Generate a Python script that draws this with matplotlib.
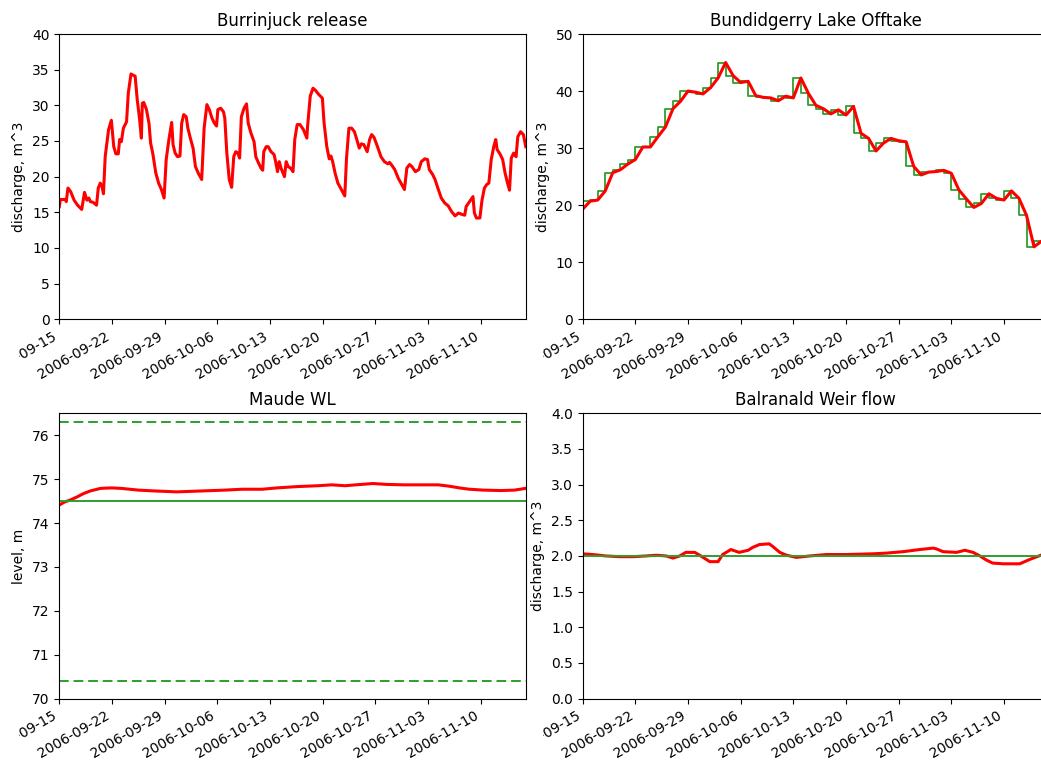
import numpy as np
import pandas as pd
import matplotlib
matplotlib.use("Agg")
import matplotlib.pyplot as plt
from matplotlib.transforms import Bbox, TransformedBbox

# ---------------- data ----------------
start = pd.Timestamp("2006-09-15")
n_days_shown = 62

burr_days = [0.00, 0.14, 0.82, 0.92, 1.15, 1.51, 1.97, 2.43, 2.98, 3.35, 3.67, 3.94, 4.12, 4.49, 4.95,
             5.18, 5.45, 5.68, 5.87, 6.10, 6.55, 6.92, 7.24, 7.52, 7.84, 8.02, 8.25, 8.52, 8.94, 9.17,
             9.53, 9.85, 10.08, 10.36, 10.68, 10.91, 11.04, 11.23, 11.59, 11.92, 12.14, 12.42, 12.83,
             13.20, 13.57, 13.93, 14.21, 14.57, 14.94, 15.12, 15.40, 15.72, 16.04, 16.27, 16.54, 16.87,
             17.09, 17.42, 17.78, 18.10, 18.47, 18.93, 19.25, 19.62, 19.94, 20.30, 20.62, 20.90, 21.08,
             21.45, 21.82, 22.00, 22.27, 22.59, 22.91, 23.19, 23.46, 23.74, 23.97, 24.20, 24.56, 24.89,
             25.11, 25.48, 25.89, 26.12, 26.49, 26.81, 27.04, 27.18, 27.50, 27.77, 28.14, 28.55, 28.78,
             29.01, 29.24, 29.47, 29.93, 30.16, 30.43, 30.75, 31.07, 31.30, 31.62, 31.99, 32.45, 32.91,
             33.00, 33.36, 33.73, 34.05, 34.51, 34.97, 35.20, 35.56, 35.88, 36.11, 36.34, 36.66, 37.03,
             37.49, 37.95, 38.18, 38.50, 38.86, 39.23, 39.55, 39.87, 40.15, 40.47, 40.93, 41.25, 41.52,
             41.84, 42.30, 42.76, 43.22, 43.68, 43.90, 44.13, 44.59, 45.05, 45.51, 45.88, 46.20, 46.56,
             46.88, 47.34, 47.80, 48.12, 48.58, 48.95, 49.18, 49.63, 49.95, 50.32, 50.78, 51.24, 51.70,
             52.15, 52.61, 53.07, 53.53, 53.90, 54.08, 54.54, 54.99, 55.18, 55.45, 55.91, 56.19, 56.51,
             56.83, 57.10, 57.42, 57.75, 58.02, 58.20, 58.57, 58.94, 59.26, 59.58, 59.85, 60.08, 60.40,
             60.72, 60.95, 61.32, 61.69, 62.01]
burr_vals = [15.8, 16.8, 16.8, 16.5, 18.4, 17.9, 16.7, 16.0, 15.4, 17.8, 16.7, 17.0, 16.5, 16.4, 16.0,
             18.4, 19.1, 18.6, 17.6, 22.8, 26.6, 27.9, 24.2, 23.2, 23.2, 25.2, 24.9, 26.8, 27.7, 31.7,
             34.4, 34.2, 34.1, 30.8, 28.0, 25.4, 30.3, 30.4, 29.4, 27.5, 24.7, 23.3, 20.5,
             19.1, 18.2, 17.0, 22.4, 25.2, 27.6, 24.5, 23.3, 22.8, 22.9, 27.5, 28.7, 28.4,
             26.8, 25.4, 24.0, 21.4, 20.5, 19.6, 26.8, 30.1, 29.4, 28.2, 27.5, 27.1, 29.4,
             29.6, 29.1, 28.2, 23.3, 19.6, 18.5, 22.8, 23.5, 23.3, 22.6, 28.4, 29.6, 30.2,
             27.5, 26.1, 24.9, 22.8, 21.9, 21.2, 20.9, 23.5, 24.2, 24.2, 23.5, 23.1, 22.0,
             20.7, 22.1, 21.2, 20.0, 22.1, 21.4, 21.2, 20.7, 25.2, 27.3, 27.3, 26.6, 25.4,
             27.0, 31.3, 32.4, 32.1, 31.5, 31.0, 27.5, 24.2, 22.5, 22.9, 22.1, 20.5, 19.1,
             18.2, 17.3, 22.6, 26.8, 26.8, 26.3, 25.2, 24.0, 24.6, 24.5, 23.5, 25.2, 25.9,
             25.5, 24.2, 22.8, 22.1, 21.8, 22.0, 21.7, 21.0, 19.8, 18.9, 18.2, 21.2, 21.7,
             21.4, 20.7, 21.0, 22.1, 22.5, 22.4, 21.0, 20.3, 19.6, 18.4, 17.0, 16.3, 15.9,
             15.1, 14.5, 14.9, 14.7, 14.6, 15.8, 16.5, 17.2, 14.9, 14.2, 14.2, 16.7, 18.4,
             18.9, 19.1, 22.4, 24.2, 25.2, 23.8, 23.2, 22.4, 20.5, 19.1, 18.1, 22.6, 23.3,
             22.8, 25.6, 26.3, 25.9, 24.2]

# daily values, days 0..62
bund_vals = [19.3, 20.7, 20.9, 22.5, 25.7, 26.2, 27.2, 28.0, 30.2, 30.2, 32.0, 33.7, 36.9, 38.2,
             40.0, 39.8, 39.5, 40.6, 42.3, 45.0, 42.7, 41.5, 41.7, 39.2, 38.9, 38.8, 38.3, 39.1,
             38.8, 42.3, 39.6, 37.5, 36.9, 36.0, 36.7, 35.8, 37.3, 32.6, 31.7, 29.5, 30.9, 31.7,
             31.3, 31.1, 26.8, 25.3, 25.8, 25.9, 26.1, 25.6, 22.7, 21.1, 19.6, 20.3, 22.0, 21.2,
             20.9, 22.5, 21.2, 18.2, 12.7, 13.7, 12.0]

maude_days = [0.0, 0.7, 1.4, 2.3, 3.2, 4.1, 5.5, 6.9, 8.2, 10.5, 12.8, 15.6, 18.8, 22.0, 24.3, 27.0,
              28.9, 31.6, 34.4, 36.2, 38.0, 39.4, 41.7, 43.5, 45.8, 48.1, 50.4, 51.8, 53.2, 54.5,
              56.4, 58.7, 60.5, 62.0]
maude_vals = [74.41, 74.48, 74.52, 74.59, 74.67, 74.73, 74.79, 74.80, 74.79, 74.75, 74.73, 74.71,
              74.73, 74.75, 74.77, 74.77, 74.80, 74.83, 74.85, 74.87, 74.85, 74.87, 74.90, 74.88,
              74.87, 74.87, 74.87, 74.84, 74.80, 74.77, 74.75, 74.74, 74.75, 74.79]
maude_target = 74.5
maude_upper = 76.3
maude_lower = 70.4

balr_days = [0.0, 1.3, 3.1, 4.9, 6.7, 8.4, 9.8, 11.1, 12.0, 12.9, 13.7, 14.9, 15.7, 16.9, 18.0, 18.6,
             19.7, 20.8, 22.0, 22.6, 23.5, 24.8, 25.3, 26.2, 27.1, 28.4, 30.2, 32.4, 35.0, 38.6,
             40.4, 42.6, 44.8, 46.6, 47.0, 47.9, 49.7, 50.8, 51.9, 52.8, 53.7, 54.5, 55.9, 57.0,
             58.1, 59.4, 60.9, 62.0]
balr_vals = [2.03, 2.02, 2.00, 1.99, 1.99, 2.00, 2.01, 2.00, 1.97, 2.00, 2.05, 2.05, 2.00, 1.92,
             1.92, 2.02, 2.09, 2.05, 2.08, 2.12, 2.16, 2.17, 2.13, 2.05, 2.01, 1.98, 2.00, 2.02,
             2.02, 2.03, 2.04, 2.06, 2.09, 2.11, 2.10, 2.06, 2.05, 2.08, 2.05, 2.00, 1.94, 1.90,
             1.89, 1.89, 1.89, 1.95, 2.01, 2.05]
balr_target = 2.0

titles = ["Burrinjuck release", "Bundidgerry Lake Offtake", "Maude WL", "Balranald Weir flow"]
ylabels = ["discharge, m^3", "discharge, m^3", "level, m", "discharge, m^3"]

# ---------------- plotting ----------------
W, H = 1041, 760
fig = plt.figure(figsize=(W / 100, H / 100), dpi=100)

left_x, right_x = 59.3, 582.7
ax_w = 466.4
ax_h = 285.3
top_y, bot_y = 34.0, 413.3

def make_ax(x_px, y_px):
    return fig.add_axes([x_px / W, 1 - (y_px + ax_h) / H, ax_w / W, ax_h / H])

ax1 = make_ax(left_x, top_y)
ax2 = make_ax(right_x, top_y)
ax3 = make_ax(left_x, bot_y)
ax4 = make_ax(right_x, bot_y)

def to_dates(days):
    return start + pd.to_timedelta(np.asarray(days, dtype=float), unit="D")

red = "#ff0000"
green = "#2ca02c"
dash = (0, (5, 2.5))

ax1.plot(to_dates(burr_days), burr_vals, color=red, lw=2.2)
ax1.set_ylim(0, 40)

bund_dates = to_dates(np.arange(len(bund_vals)))
ax2.plot(bund_dates, bund_vals, color=green, lw=1.3, drawstyle="steps")
ax2.plot(bund_dates, bund_vals, color=red, lw=2.2)
ax2.set_ylim(0, 50)

ax3.plot(to_dates(maude_days), maude_vals, color=red, lw=2.2)
ax3.axhline(maude_target, color=green, lw=1.4)
ax3.axhline(maude_upper, color=green, lw=1.4, ls=dash)
ax3.axhline(maude_lower, color=green, lw=1.4, ls=dash)
ax3.set_ylim(70, 76.5)

ax4.plot(to_dates(balr_days), balr_vals, color=red, lw=2.2)
ax4.axhline(balr_target, color=green, lw=1.4)
ax4.set_ylim(0, 4)
ax4.set_yticks(np.arange(0, 4.01, 0.5))

tick_dates = pd.date_range(start, periods=9, freq="7D")
tick_labels = [d.strftime("%Y-%m-%d") for d in tick_dates]

for ax, t, yl in zip([ax1, ax2, ax3, ax4], titles, ylabels):
    ax.set_xlim(start, start + pd.Timedelta(days=n_days_shown))
    ax.set_xticks(tick_dates)
    ax.set_xticklabels(tick_labels, rotation=30, ha="right")
    ax.set_title(t, fontsize=12)
    ax.set_ylabel(yl)
    ax.tick_params(labelsize=10)

# labels at the left edge of each column are cut as in the source
for ax, clip_x in [(ax1, 19.0), (ax3, 19.0), (ax2, 543.0), (ax4, 543.0)]:
    cb = TransformedBbox(Bbox.from_extents(clip_x / W, 0, 1.2, 1), fig.transFigure)
    for lab in ax.get_xticklabels():
        lab.set_clip_on(True)
        lab.set_clip_box(cb)

fig.savefig("out.png", dpi=100)
